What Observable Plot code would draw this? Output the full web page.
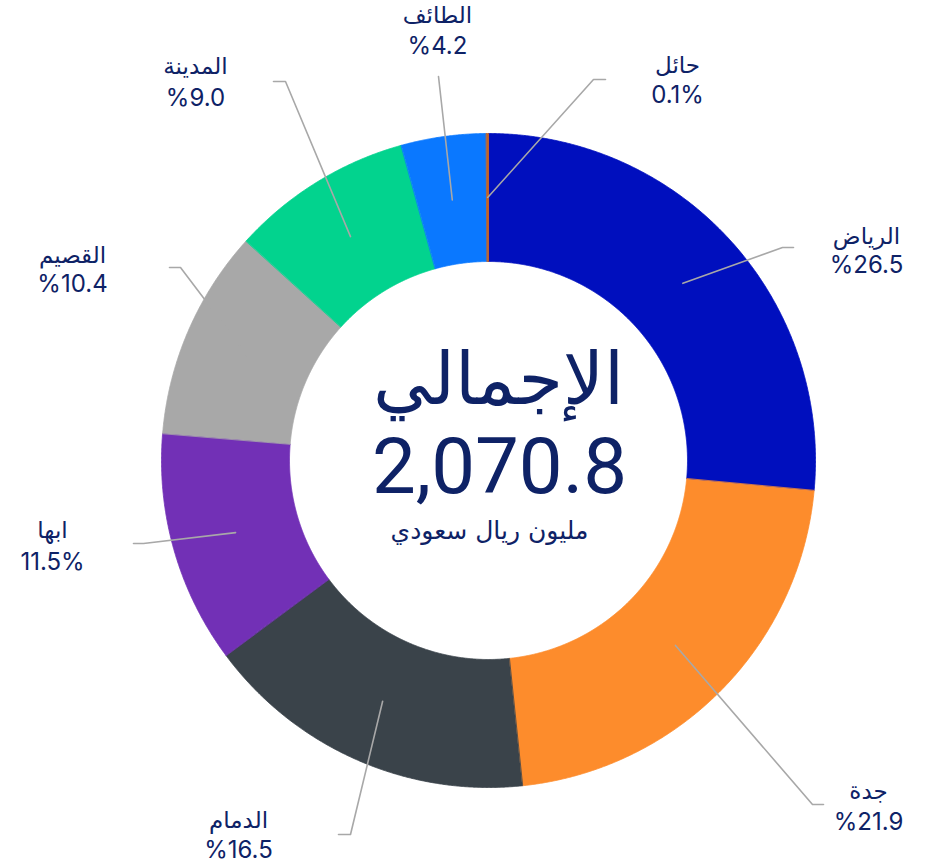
<!DOCTYPE html>
<html><head><meta charset="utf-8">
<script src="https://cdn.jsdelivr.net/npm/d3@7"></script>
<script src="https://cdn.jsdelivr.net/npm/@observablehq/plot@0.6"></script>
<style>html,body{margin:0;padding:0;background:#fff}</style>
</head><body><div id="chart"></div>
<script>
// ---- data ----
const regions = ["الرياض", "جدة", "الدمام", "ابها", "القصيم", "المدينة", "الطائف", "حائل"];
const shares = [26.5, 21.9, 16.5, 11.5, 10.4, 9.0, 4.2, 0.1];
const shareLabels = ["%26.5", "%21.9", "%16.5", "11.5%", "%10.4", "%9.0", "%4.2", "0.1%"];
const totalTitle = "الإجمالي";
const totalValue = 2070.8;
const totalUnit = "مليون ريال سعودي";

// ---- styles / layout ----
const sliceColors = ["#000fbe", "#fd8c2c", "#3a434a", "#7230b6", "#a8a8a8", "#02d38e", "#0a78ff", "#c8621e"];
const leaderColor = "#a8a8a8";
const W = 941, H = 865, CX = 488, CY = 460, R_OUT = 327, R_IN = 199;
const elbows = [[294,-213],[324,344],[-138,374],[-345,83],[-308,-193],[-203,-379],[-50,-384],[105,-381]];
const hooks = [11, 11, -12, -10, -11, -12, 0, 12];
const labelPos = [[378,-217,-188],[380,338,369],[-250,367,397],[-436,77,109],[-416,-198,-169],[-293,-387,-355],[-51,-438,-407],[189,-388,-358]];
const navy = "#0e2266";

const sum = d3.sum(shares);
let acc = 0;
const slices = shares.map((v, i) => {
  const a0 = acc / sum * 2 * Math.PI; acc += v;
  const a1 = acc / sum * 2 * Math.PI;
  return {name: regions[i], a0, a1, mid: (a0 + a1) / 2, i};
});
const polar = (a, r) => [r * Math.sin(a), -r * Math.cos(a)];

const arcPts = [];
for (const s of slices) {
  const n = Math.max(2, Math.ceil((s.a1 - s.a0) / 0.004));
  for (let k = 0; k <= n; k++) { const [x, y] = polar(s.a0 + (s.a1 - s.a0) * k / n, R_OUT); arcPts.push({name: s.name, x, y}); }
  for (let k = n; k >= 0; k--) { const [x, y] = polar(s.a0 + (s.a1 - s.a0) * k / n, R_IN); arcPts.push({name: s.name, x, y}); }
}

const leaderPts = [];
slices.forEach((s, i) => {
  const [sx, sy] = polar(s.mid, (R_IN + R_OUT) / 2);
  const [ex, ey] = elbows[i];
  leaderPts.push({name: s.name, x: sx, y: sy}, {name: s.name, x: ex, y: ey}, {name: s.name, x: ex + hooks[i], y: ey});
});

const labels = slices.map((s, i) => ({name: s.name, pct: shareLabels[i], x: labelPos[i][0], yName: labelPos[i][1], yPct: labelPos[i][2]}));

const center = [
  {t: totalTitle, x: 10, y: -57, size: 72, font: "DejaVu Sans"},
  {t: d3.format(",.1f")(totalValue), x: 11, y: 32, size: 78, font: "Roboto"},
  {t: totalUnit, x: 1, y: 78, size: 25, font: "DejaVu Sans"}
];

const chart = Plot.plot({
  width: W, height: H, margin: 0,
  x: {domain: [-CX, W - CX], range: [0, W], axis: null},
  y: {domain: [-CY, H - CY], range: [0, H], axis: null},
  color: {domain: regions, range: sliceColors},
  marks: [
    Plot.line(arcPts, {x: "x", y: "y", z: "name", fill: "name", stroke: "name", strokeWidth: 0.8, curve: "linear-closed"}),
    Plot.line(leaderPts, {x: "x", y: "y", z: "name", stroke: leaderColor, strokeWidth: 1.6}),
    Plot.text(labels, {x: "x", y: "yName", text: "name", fill: navy, fontSize: 23, fontFamily: "DejaVu Sans", lineAnchor: "bottom"}),
    Plot.text(labels, {x: "x", y: "yPct", text: "pct", fill: navy, fontSize: 24, fontFamily: "Inter", lineAnchor: "bottom"}),
    ...center.map(c => Plot.text([c], {x: "x", y: "y", text: "t", fill: navy, fontSize: c.size, fontFamily: c.font, lineAnchor: "bottom"}))
  ]
});
document.getElementById("chart").appendChild(chart);
</script>
</body></html>
